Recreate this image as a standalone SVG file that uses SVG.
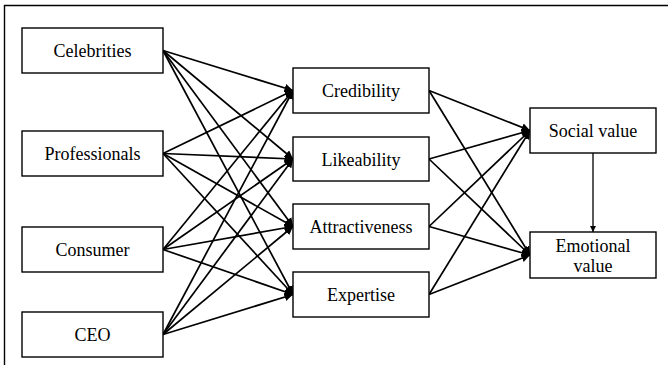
<svg xmlns="http://www.w3.org/2000/svg" width="668" height="365" viewBox="0 0 668 365">
<style>
.box{fill:#fff;stroke:#000;stroke-width:1.4}
.t{font-family:"Liberation Serif","Times New Roman",serif;font-size:18px;fill:#000;text-anchor:middle}
.c{stroke:#000;stroke-width:1.7;fill:none;marker-end:url(#ah)}
</style>
<defs>
<marker id="ah" viewBox="0 0 10 10" refX="10" refY="5" markerWidth="5" markerHeight="5" orient="auto" markerUnits="strokeWidth">
<path d="M0,0 L10,5 L0,10 z" fill="#000"/>
</marker>
</defs>
<rect x="0" y="0" width="668" height="365" fill="#fff"/>
<path d="M4.5,365 V5.5 H668" fill="none" stroke="#000" stroke-width="1.4"/>
<g id="connectors">
<line class="c" x1="163" y1="50.5" x2="293" y2="90.5"/>
<line class="c" x1="163" y1="50.5" x2="293" y2="159"/>
<line class="c" x1="163" y1="50.5" x2="293" y2="226.5"/>
<line class="c" x1="163" y1="50.5" x2="293" y2="294.5"/>
<line class="c" x1="163" y1="153.5" x2="293" y2="90.5"/>
<line class="c" x1="163" y1="153.5" x2="293" y2="159"/>
<line class="c" x1="163" y1="153.5" x2="293" y2="226.5"/>
<line class="c" x1="163" y1="153.5" x2="293" y2="294.5"/>
<line class="c" x1="163" y1="249.5" x2="293" y2="90.5"/>
<line class="c" x1="163" y1="249.5" x2="293" y2="159"/>
<line class="c" x1="163" y1="249.5" x2="293" y2="226.5"/>
<line class="c" x1="163" y1="249.5" x2="293" y2="294.5"/>
<line class="c" x1="163" y1="334.5" x2="293" y2="90.5"/>
<line class="c" x1="163" y1="334.5" x2="293" y2="159"/>
<line class="c" x1="163" y1="334.5" x2="293" y2="226.5"/>
<line class="c" x1="163" y1="334.5" x2="293" y2="294.5"/>
<line class="c" x1="429" y1="90.5" x2="530" y2="130.5"/>
<line class="c" x1="429" y1="90.5" x2="530" y2="255"/>
<line class="c" x1="429" y1="159" x2="530" y2="130.5"/>
<line class="c" x1="429" y1="159" x2="530" y2="255"/>
<line class="c" x1="429" y1="226.5" x2="530" y2="130.5"/>
<line class="c" x1="429" y1="226.5" x2="530" y2="255"/>
<line class="c" x1="429" y1="294.5" x2="530" y2="130.5"/>
<line class="c" x1="429" y1="294.5" x2="530" y2="255"/>
<line class="c" x1="593" y1="153" x2="593" y2="232" style="stroke-width:1.3"/>
</g>
<g id="celebrities"><rect class="box" x="22" y="28" width="141" height="45"/><text class="t" x="92.5" y="57">Celebrities</text></g>
<g id="professionals"><rect class="box" x="22" y="131" width="141" height="45"/><text class="t" x="92.5" y="160">Professionals</text></g>
<g id="consumer"><rect class="box" x="22" y="227" width="141" height="45"/><text class="t" x="92.5" y="256">Consumer</text></g>
<g id="ceo"><rect class="box" x="22" y="312" width="141" height="45"/><text class="t" x="92.5" y="341">CEO</text></g>
<g id="credibility"><rect class="box" x="293" y="68" width="136" height="45"/><text class="t" x="361" y="97">Credibility</text></g>
<g id="likeability"><rect class="box" x="293" y="137" width="136" height="44"/><text class="t" x="361" y="165.5">Likeability</text></g>
<g id="attractiveness"><rect class="box" x="293" y="204" width="136" height="45"/><text class="t" x="361" y="233">Attractiveness</text></g>
<g id="expertise"><rect class="box" x="293" y="272" width="136" height="45"/><text class="t" x="361" y="301">Expertise</text></g>
<g id="social-value"><rect class="box" x="530" y="108" width="126" height="45"/><text class="t" x="593" y="137">Social value</text></g>
<g id="emotional-value"><rect class="box" x="530" y="232" width="126" height="46"/><text class="t" x="593" y="252">Emotional</text><text class="t" x="593" y="272">value</text></g>
</svg>
